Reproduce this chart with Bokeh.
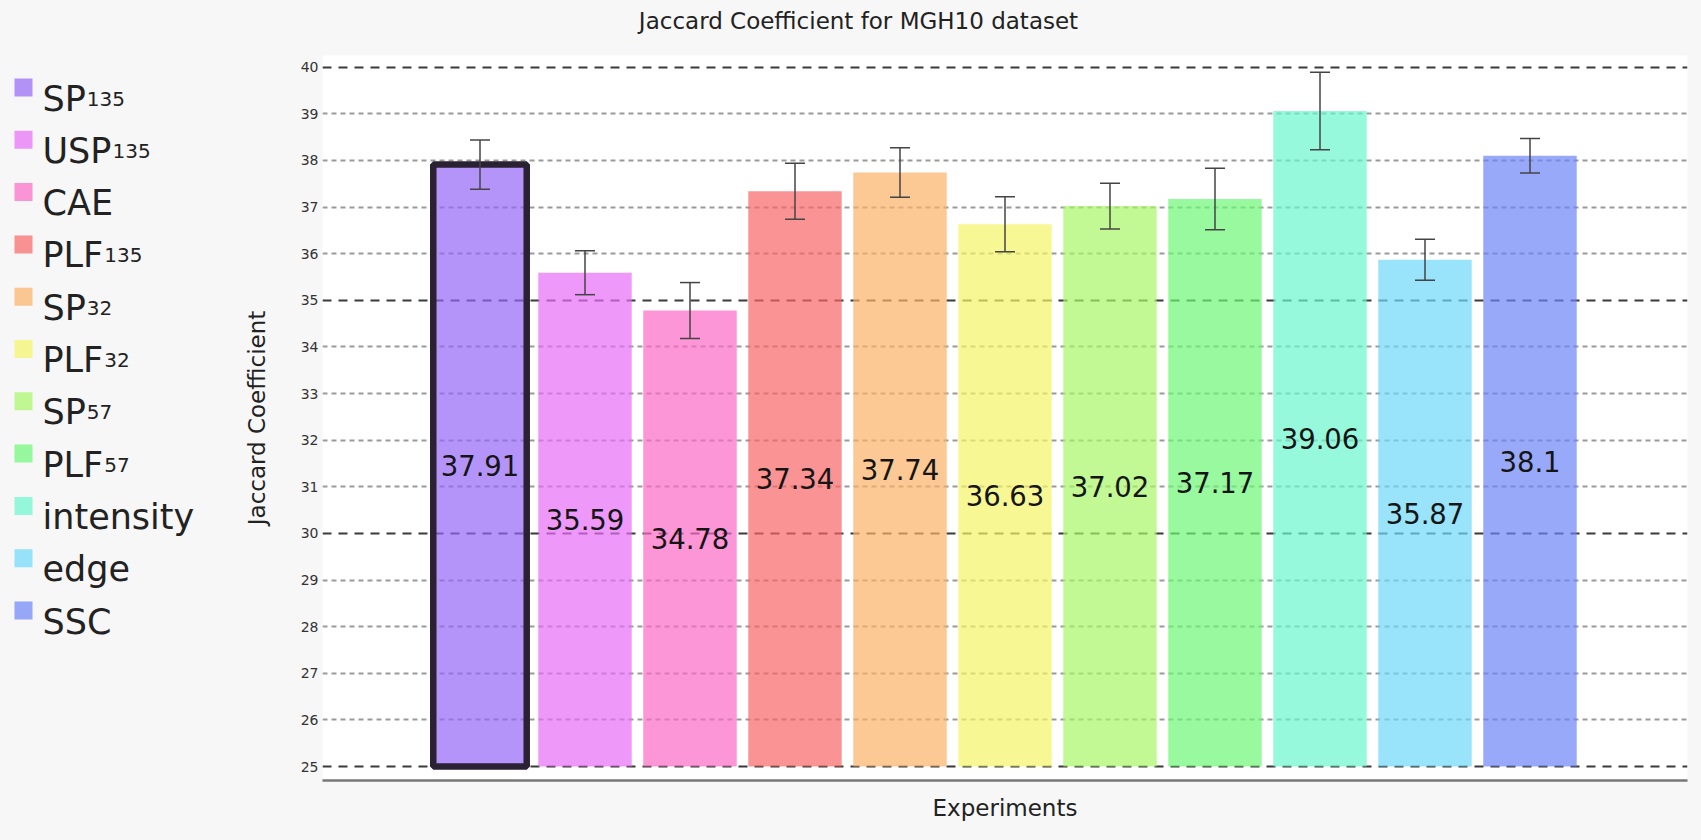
from bokeh.plotting import figure
from bokeh.layouts import row, column
from bokeh.models import ColumnDataSource, Range1d, FixedTicker, Grid, Whisker, TeeHead
from bokeh.core.properties import value
from bokeh.embed import file_html
from bokeh.resources import INLINE

# --- data -------------------------------------------------------------
exp_names = ["SP", "USP", "CAE", "PLF", "SP", "PLF", "SP", "PLF", "intensity", "edge", "SSC"]
exp_subscripts = ["135", "135", "", "135", "32", "32", "57", "57", "", "", ""]
jaccard = [37.91, 35.59, 34.78, 37.34, 37.74, 36.63, 37.02, 37.17, 39.06, 35.87, 38.1]
jaccard_err = [0.53, 0.47, 0.60, 0.60, 0.53, 0.59, 0.49, 0.66, 0.83, 0.44, 0.37]
colors = ["#9466f7", "#e76df8", "#fb69c4", "#f86565", "#fbb066", "#f4f466",
          "#a8f766", "#6df776", "#6bf7cd", "#6dd7f9", "#6b84f5"]
y_ticks = list(range(25, 41))
major_ticks = [25, 30, 35, 40]
highlight = 0          # experiment drawn with a dark outline
baseline = 25
title = "Jaccard Coefficient for MGH10 dataset"

FONT = "DejaVu Sans"
BG = "#f7f7f7"
BAR_ALPHA = 0.7
PAGE_W, PAGE_H = 1701, 840
TITLE_H = 40
LEG_W = 225
FRAME_TOP, FRAME_BOTTOM = 55, 780          # page pixels of the plotting area


def blank(fig):
    fig.background_fill_color = BG
    fig.border_fill_color = BG
    fig.outline_line_color = None
    fig.xgrid.visible = False
    fig.ygrid.visible = False


# --- title strip --------------------------------------------------------
head = figure(width=PAGE_W, height=TITLE_H, x_range=Range1d(0, PAGE_W),
              y_range=Range1d(TITLE_H, 0), x_axis_type=None, y_axis_type=None,
              toolbar_location=None, output_backend="svg", min_border=0)
blank(head)
head.text(x=[858], y=[20], text=[title], text_font=value(FONT), text_font_size="23px",
          text_color="#222222", text_align="center", text_baseline="middle")

# --- legend panel (coordinates are page pixels) -------------------------
body_h = PAGE_H - TITLE_H
leg = figure(width=LEG_W, height=body_h, x_range=Range1d(0, LEG_W),
             y_range=Range1d(FRAME_BOTTOM, FRAME_TOP), x_axis_type=None, y_axis_type=None,
             toolbar_location=None, output_backend="svg",
             min_border_left=0, min_border_right=0,
             min_border_top=FRAME_TOP - TITLE_H, min_border_bottom=PAGE_H - FRAME_BOTTOM)
blank(leg)

NAME_PX, SUB_PX = 35, 20
# DejaVu Sans advance widths (em) of the capitals used in the legend names
ADV = {"S": 0.635, "P": 0.603, "U": 0.732, "L": 0.557, "F": 0.575}
first_y, pitch, text_x = 87, 52.3, 42
item_y = [first_y + i * pitch for i in range(len(exp_names))]
sub_x = [text_x + NAME_PX * sum(ADV.get(c, 0.6) for c in nm) + 1 for nm in exp_names]
leg_src = ColumnDataSource(dict(y=item_y, ty=[v + 11 for v in item_y], name=exp_names,
                                sub=exp_subscripts, sx=sub_x, color=colors))
leg.rect(x=23, y="y", width=18, height=18, fill_color="color", fill_alpha=BAR_ALPHA,
         line_color=None, source=leg_src)
leg.text(x=text_x, y="ty", text="name", source=leg_src, text_font=value(FONT),
         text_font_size=f"{NAME_PX}px", text_color="#222222", text_baseline="alphabetic")
leg.text(x="sx", y="ty", text="sub", source=leg_src, text_font=value(FONT),
         text_font_size=f"{SUB_PX}px", text_color="#222222", text_baseline="alphabetic")

# --- main chart -------------------------------------------------------
n = len(jaccard)
idx = list(range(n))
p = figure(width=PAGE_W - LEG_W, height=body_h, x_range=Range1d(-1.5, n + 0.5),
           y_range=Range1d(24.70, 40.25), toolbar_location=None, output_backend="svg",
           min_border_left=322 - LEG_W, min_border_right=PAGE_W - 1687,
           min_border_top=FRAME_TOP - TITLE_H, min_border_bottom=PAGE_H - FRAME_BOTTOM)
blank(p)
p.background_fill_color = "white"

# dashed horizontal guides
p.add_layout(Grid(dimension=1, ticker=FixedTicker(ticks=[t for t in y_ticks if t not in major_ticks]),
                  grid_line_color="#9a9a9a", grid_line_width=2, grid_line_dash="5 4"))
p.add_layout(Grid(dimension=1, ticker=FixedTicker(ticks=major_ticks),
                  grid_line_color="#3a3a3a", grid_line_width=2, grid_line_dash="9 7"))

src = ColumnDataSource(dict(
    x=idx, top=jaccard, color=colors,
    upper=[v + e for v, e in zip(jaccard, jaccard_err)],
    lower=[v - e for v, e in zip(jaccard, jaccard_err)],
    label_y=[(baseline + v) / 2 for v in jaccard],
    label=[str(v) for v in jaccard],
))
p.vbar(x="x", top="top", bottom=baseline, width=0.89, fill_color="color",
       fill_alpha=BAR_ALPHA, line_color=None, source=src)
p.vbar(x=[idx[highlight]], top=[jaccard[highlight]], bottom=baseline, width=0.89,
       fill_color=None, line_color="#2a2232", line_width=6.5)

whisk = Whisker(base="x", upper="upper", lower="lower", source=src,
                line_color="#444444", line_width=1.5, level="annotation",
                upper_head=TeeHead(size=20, line_color="#444444", line_width=1.5),
                lower_head=TeeHead(size=20, line_color="#444444", line_width=1.5))
p.add_layout(whisk)

p.text(x="x", y="label_y", text="label", source=src, text_font=value(FONT),
       text_font_size="27.5px", text_color="#151515", text_align="center",
       text_baseline="middle")

# y axis
p.yaxis.ticker = FixedTicker(ticks=y_ticks)
p.yaxis.axis_line_color = None
p.yaxis.major_tick_line_color = None
p.yaxis.minor_tick_line_color = None
p.yaxis.major_tick_out = 0
p.yaxis.major_label_standoff = 4
p.yaxis.major_label_text_font = FONT
p.yaxis.major_label_text_font_size = "14px"
p.yaxis.major_label_text_color = "#333333"
p.yaxis.axis_label = "Jaccard Coefficient"
p.yaxis.axis_label_text_font = FONT
p.yaxis.axis_label_text_font_style = "normal"
p.yaxis.axis_label_text_font_size = "23px"
p.yaxis.axis_label_text_color = "#222222"
p.yaxis.axis_label_standoff = 28

# x axis
p.xaxis.ticker = FixedTicker(ticks=[])
p.xaxis.axis_line_color = "#777777"
p.xaxis.axis_line_width = 2.5
p.xaxis.major_tick_line_color = None
p.xaxis.minor_tick_line_color = None
p.xaxis.major_tick_out = 0
p.xaxis.major_label_text_font_size = "0px"
p.xaxis.axis_label = "Experiments"
p.xaxis.axis_label_text_font = FONT
p.xaxis.axis_label_text_font_style = "normal"
p.xaxis.axis_label_text_font_size = "23px"
p.xaxis.axis_label_text_color = "#222222"
p.xaxis.axis_label_standoff = 14

layout = column(head, row(leg, p, spacing=0, styles={"background-color": BG}),
                spacing=0, styles={"background-color": BG})
open("out.html", "w").write(file_html(layout, INLINE))
